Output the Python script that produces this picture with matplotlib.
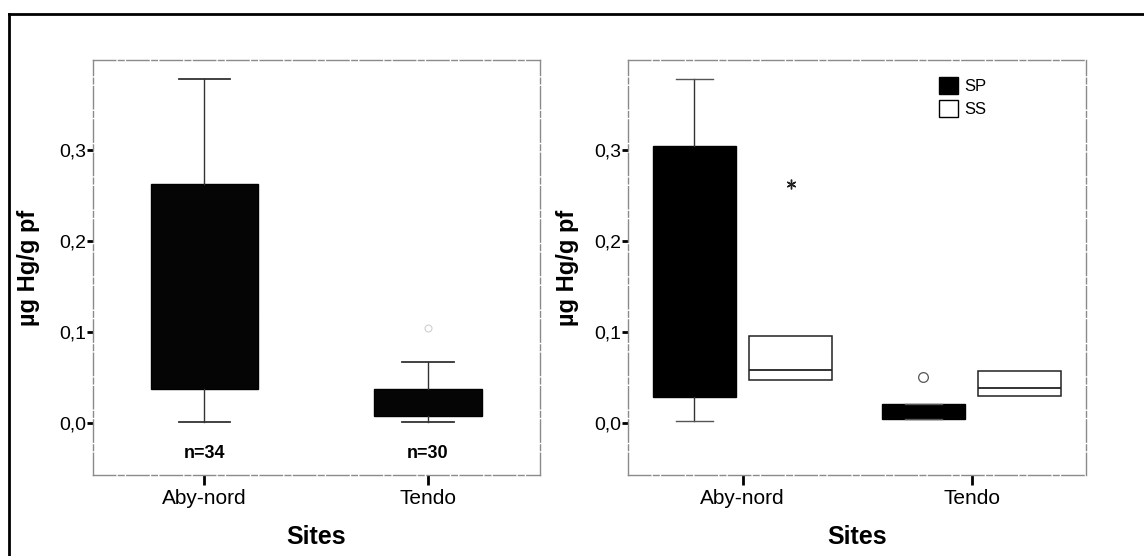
import matplotlib
matplotlib.use("Agg")
import matplotlib.pyplot as plt
from matplotlib.lines import Line2D
from matplotlib.patches import Patch

plt.rcParams["font.family"] = ["Liberation Sans", "DejaVu Sans"]

# Données
sites = ["Aby-nord", "Tendo"]
n_labels = ["n=34", "n=30"]

# panneau gauche : tous les échantillons
all_lo = [0.001, 0.001]
all_q1 = [0.038, 0.008]
all_med = [0.12, 0.02]
all_q3 = [0.263, 0.038]
all_hi = [0.378, 0.067]
all_out = [[], [0.105]]

# panneau droit : SP et SS
sp_lo = [0.002, 0.004]
sp_q1 = [0.029, 0.004]
sp_med = [0.15, 0.012]
sp_q3 = [0.305, 0.0205]
sp_hi = [0.378, 0.0205]
sp_out = [[], [0.051]]

ss_lo = [0.047, 0.030]
ss_q1 = [0.047, 0.030]
ss_med = [0.058, 0.039]
ss_q3 = [0.096, 0.057]
ss_hi = [0.096, 0.057]
ss_ext = [[0.263], []]

yticks = [0.0, 0.1, 0.2, 0.3]
ytick_labels = ["0,0", "0,1", "0,2", "0,3"]


def stats(lo, q1, med, q3, hi, out):
    return [dict(whislo=lo[i], q1=q1[i], med=med[i], q3=q3[i], whishi=hi[i],
                 fliers=out[i]) for i in range(len(lo))]


def style_axis(ax, ylabel_x):
    ax.set_xlim(0.5, 2.5)
    ax.set_ylim(-0.057, 0.399)
    for s in ax.spines.values():
        s.set_color("#8a8a8a")
        s.set_linewidth(1.0)
        s.set_linestyle((0, (16, 2, 4, 2)))
    ax.set_yticks(yticks)
    ax.set_yticklabels(ytick_labels, fontsize=14)
    ax.set_xticks([1, 2])
    ax.set_xticklabels(sites, fontsize=15)
    ax.tick_params(axis="y", direction="out", length=4, width=2, pad=1)
    ax.tick_params(axis="x", direction="out", length=7, width=2, pad=3)
    ax.set_ylabel("µg Hg/g pf", fontsize=17, fontweight="bold")
    ax.yaxis.set_label_coords(ylabel_x, 0.5)
    ax.set_xlabel("Sites", fontsize=18, fontweight="bold", labelpad=12)


fig = plt.figure(figsize=(11.44, 5.56), dpi=100)

# cadre général (haut et gauche)
fig.add_artist(Line2D([9 / 1144, 1.0], [1 - 14 / 556, 1 - 14 / 556], color="black", lw=2))
fig.add_artist(Line2D([9 / 1144, 9 / 1144], [0.0, 1 - 14 / 556], color="black", lw=2))

ax1 = fig.add_axes([92.7 / 1144, 1 - 475 / 556, 447 / 1144, 415 / 556])
ax2 = fig.add_axes([628 / 1144, 1 - 475 / 556, 458 / 1144, 415 / 556])

# panneau gauche
ax1.bxp(stats(all_lo, all_q1, all_med, all_q3, all_hi, all_out),
        positions=[1, 2], widths=0.48, capwidths=0.23, patch_artist=True,
        boxprops=dict(facecolor="#050505", edgecolor="black", lw=1),
        medianprops=dict(color="#050505", lw=1),
        whiskerprops=dict(color="#333333", lw=1),
        capprops=dict(color="#333333", lw=1.3),
        flierprops=dict(marker="o", markersize=5, markerfacecolor="none",
                        markeredgecolor="#d0d0d0", markeredgewidth=0.8))
for i in range(len(sites)):
    ax1.text(i + 1, -0.033, n_labels[i], ha="center", va="center",
             fontsize=13, fontweight="bold")
style_axis(ax1, -0.118)

# panneau droit
off = 0.21
pos_sp = [p - off for p in (1, 2)]
pos_ss = [p + off for p in (1, 2)]
ax2.bxp(stats(sp_lo, sp_q1, sp_med, sp_q3, sp_hi, sp_out),
        positions=pos_sp, widths=0.36, capwidths=0.16, patch_artist=True,
        boxprops=dict(facecolor="black", edgecolor="black", lw=1),
        medianprops=dict(color="black", lw=1),
        whiskerprops=dict(color="#333333", lw=1),
        capprops=dict(color="#555555", lw=1),
        flierprops=dict(marker="o", markersize=7, markerfacecolor="none",
                        markeredgecolor="#555555", markeredgewidth=0.9))
ax2.bxp(stats(ss_lo, ss_q1, ss_med, ss_q3, ss_hi, ss_ext),
        positions=pos_ss, widths=0.36, capwidths=0.0, patch_artist=True,
        boxprops=dict(facecolor="white", edgecolor="#222222", lw=1.1),
        medianprops=dict(color="#222222", lw=1.3),
        whiskerprops=dict(color="#222222", lw=1),
        capprops=dict(color="#222222", lw=0),
        flierprops=dict(marker=(6, 2, 0), markersize=7,
                        markeredgecolor="#222222", markeredgewidth=1.0))
style_axis(ax2, -0.107)

handles = [Patch(facecolor="black", edgecolor="black", label="SP"),
           Patch(facecolor="white", edgecolor="black", label="SS")]
ax2.legend(handles=handles, loc="upper left", bbox_to_anchor=(0.665, 0.975),
           frameon=False, fontsize=12, handlelength=1.1, handleheight=1.2,
           handletextpad=0.4, labelspacing=0.35, borderaxespad=0)

fig.savefig("out.png", dpi=100)
